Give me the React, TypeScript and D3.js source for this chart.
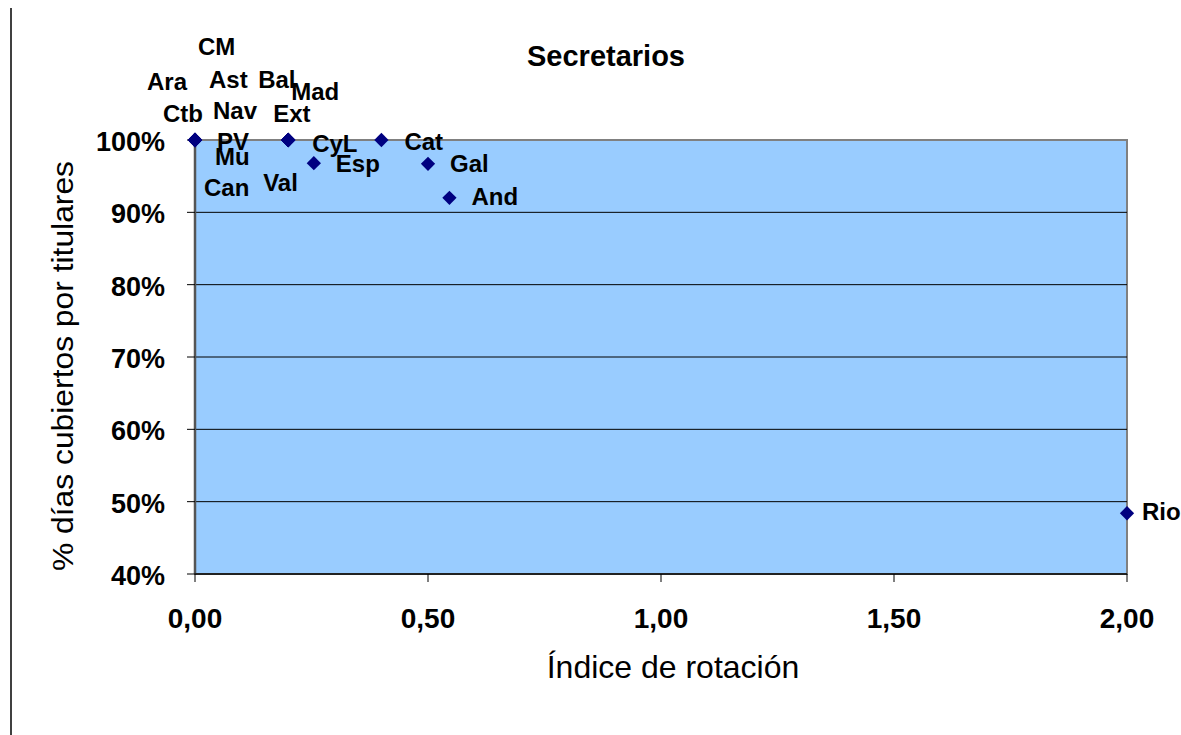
import React from 'react';
import * as d3 from 'd3';

// regions (autonomous communities) and their values
const regions = ['Ara', 'Ctb', 'CM', 'Ast', 'Nav', 'PV', 'Mu', 'Can', 'Bal', 'Mad', 'Ext', 'CyL', 'Val', 'Esp', 'Cat', 'Gal', 'And', 'Rio'];
const rotationIndex = [0, 0, 0, 0, 0, 0, 0, 0, 0.2, 0.2, 0.2, 0.2, 0.2, 0.255, 0.4, 0.5, 0.546, 2.0];
const titularShare = [1, 1, 1, 1, 1, 1, 1, 1, 1, 1, 1, 1, 1, 0.968, 1, 0.967, 0.92, 0.484];

const xTicks = [0, 0.5, 1, 1.5, 2];
const yTicks = [0.4, 0.5, 0.6, 0.7, 0.8, 0.9, 1];

const chartTitle = 'Secretarios';
const xTitle = 'Índice de rotación';
const yTitle = '% días cubiertos por titulares';

// hand-placed label offsets (px from the marker), as in the original sheet
const labelNudge: Record<string, [number, number]> = {
  Ara: [-48, -50], Ctb: [-32, -18], CM: [3, -85], Ast: [14, -52], Nav: [18, -21],
  PV: [22, 10], Mu: [20, 25], Can: [9, 56],
  Bal: [-30, -52], Mad: [3, -40], Ext: [-15, -18], CyL: [24, 12], Val: [-25, 51],
  Esp: [22, 9], Cat: [23, 10], Gal: [22, 8], And: [22, 7], Rio: [15, 7],
};

const font = '"Liberation Sans", Arial, sans-serif';

export default function App() {
  const W = 1181, H = 735;
  const left = 195, right = 1127, top = 140, bottom = 574;

  const x = d3.scaleLinear().domain([0, 2]).range([left, right]);
  const y = d3.scaleLinear().domain([0.4, 1]).range([bottom, top]);

  const es = d3.formatLocale({ decimal: ',', thousands: '.', grouping: [3], currency: ['', '€'] });
  const fx = es.format('.2f');
  const fy = d3.format('.0%');

  const diamond = d3.symbol().type(d3.symbolDiamond2).size(130)() as string;

  return (
    <svg width={W} height={H} style={{ position: 'absolute', left: 0, top: 0, background: '#fff' }} fontFamily={font}>
      <line x1={11} x2={11} y1={8} y2={H} stroke="#000" strokeWidth={1.5} />

      <rect x={left} y={top} width={right - left} height={bottom - top} fill="#99CCFF" stroke="#808080" strokeWidth={2} />

      {yTicks.filter(t => t > 0.4 && t < 1).map(t => (
        <line key={'g' + t} x1={left} x2={right} y1={y(t)} y2={y(t)} stroke="#000" strokeWidth={1} />
      ))}

      <line x1={left} x2={left} y1={top} y2={bottom} stroke="#555" strokeWidth={2.5} />
      <line x1={left} x2={right} y1={bottom} y2={bottom} stroke="#222" strokeWidth={2} />

      {yTicks.map(t => (
        <g key={'y' + t}>
          <line x1={left - 8} x2={left} y1={y(t)} y2={y(t)} stroke="#000" strokeWidth={1} />
          <text x={165} y={y(t) + 11} textAnchor="end" fontSize={27} fontWeight="bold">{fy(t)}</text>
        </g>
      ))}

      {xTicks.map(t => (
        <g key={'x' + t}>
          <line x1={x(t)} x2={x(t)} y1={bottom} y2={bottom + 8} stroke="#000" strokeWidth={1} />
          <text x={x(t)} y={628} textAnchor="middle" fontSize={28} fontWeight="bold">{fx(t)}</text>
        </g>
      ))}

      <text x={606} y={66} textAnchor="middle" fontSize={29} fontWeight="bold">{chartTitle}</text>
      <text x={673} y={678} textAnchor="middle" fontSize={32}>{xTitle}</text>
      <text transform="translate(73,366) rotate(-90)" textAnchor="middle" fontSize={29}
        textLength={410} lengthAdjust="spacingAndGlyphs">{yTitle}</text>

      {regions.map((r, i) => (
        <path key={'p' + r} d={diamond} transform={`translate(${x(rotationIndex[i])},${y(titularShare[i])})`} fill="#000080" />
      ))}

      {regions.map((r, i) => {
        const [dx, dy] = labelNudge[r];
        return (
          <text key={'l' + r} x={x(rotationIndex[i]) + dx} y={y(titularShare[i]) + dy} fontSize={24} fontWeight="bold">{r}</text>
        );
      })}
    </svg>
  );
}
